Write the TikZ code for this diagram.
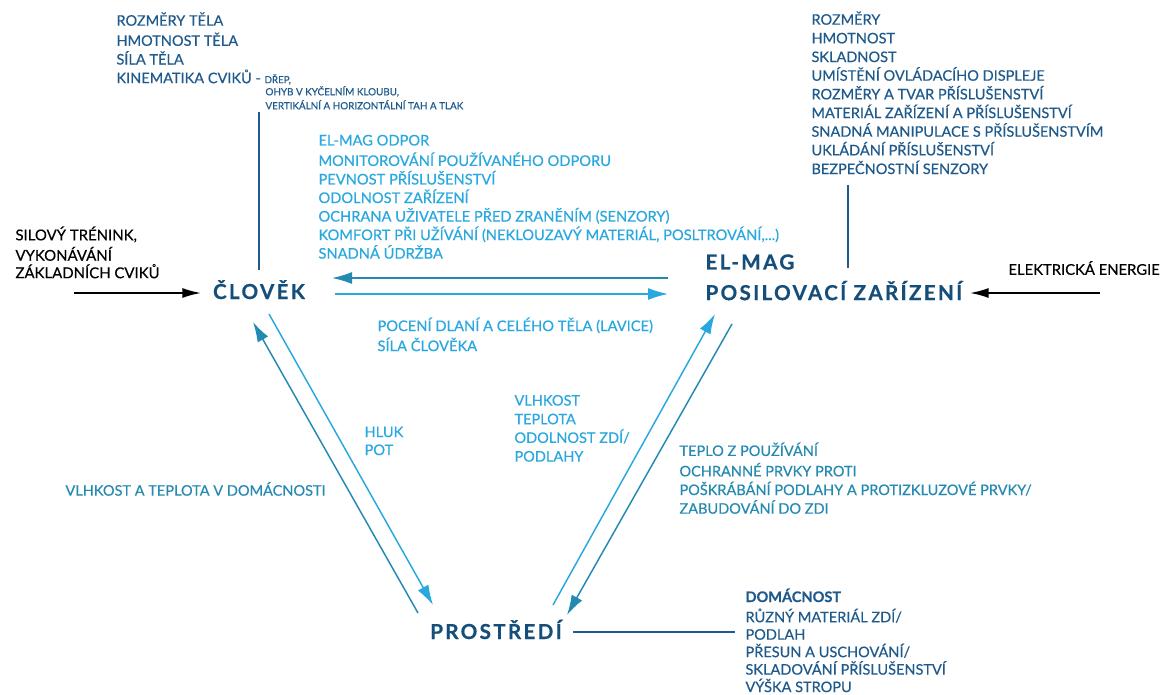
\documentclass[tikz,border=0pt]{standalone}
\usepackage{fontspec}
\setmainfont[FakeBold=0.4]{Lato}
\newfontfamily\hlavnifont[LetterSpace=11,FakeBold=0.5]{Lato}
\usetikzlibrary{arrows.meta,calc}

\definecolor{tmavamodra}{RGB}{31,90,140}
\definecolor{hlavnimodra}{RGB}{22,78,122}
\definecolor{azurova}{RGB}{41,168,224}
\definecolor{tyrkysova}{RGB}{36,138,178}

\tikzset{every picture/.style={line width=0.75pt}}
\tikzset{
  seznam/.style={anchor=north west,inner sep=0.75pt,align=left,font=\fontsize{10.9}{14}\selectfont},
  hlavni/.style={inner sep=0.75pt,text=hlavnimodra,font=\hlavnifont\bfseries\fontsize{15.5}{23}\selectfont},
  sipkaA/.style={azurova,line width=1.1pt,-{Latex[length=15pt,width=9pt]}},
  sipkaT/.style={tyrkysova,line width=1.1pt,-{Latex[length=15pt,width=9pt]}},
  sipkaC/.style={black,line width=1.2pt,-{Latex[length=14pt,width=7.5pt]}},
  linka/.style={tmavamodra,line width=1pt}
}

\begin{document}
\begin{tikzpicture}[x=0.75pt,y=0.75pt,yscale=-1,xscale=1]
\useasboundingbox (0,0) rectangle (1162,695);
\fill [white] (0,0) rectangle (1162,695);

% Text Node
\draw (259,299) node [hlavni,anchor=base] (clovek) {ČLOVĚK};
% Text Node
\draw (704,246.5) node [hlavni,anchor=north west,align=left] (zarizeni) {\strut EL-MAG\\POSILOVACÍ ZAŘÍZENÍ};
% Text Node
\draw (496,639) node [hlavni,anchor=base] (prostredi) {PROSTŘEDÍ};

% Text Node
\draw (115,11) node [seznam,text=tmavamodra] (telo) {\strut ROZMĚRY TĚLA\\HMOTNOST TĚLA\\SÍLA TĚLA\\KINEMATIKA CVIKŮ - {\fontsize{7.3}{14}\selectfont DŘEP,}};
% Text Node
\draw (264,84) node [seznam,text=tmavamodra,font=\fontsize{7.4}{10.5}\selectfont] (cviky) {\strut OHYB V KYČELNÍM KLOUBU,\\VERTIKÁLNÍ A HORIZONTÁLNÍ TAH A TLAK};
% Text Node
\draw (317,131) node [seznam,text=azurova,font=\fontsize{11}{13.9}\selectfont] (odpor) {\strut EL-MAG ODPOR\\MONITOROVÁNÍ POUŽÍVANÉHO ODPORU\\PEVNOST PŘÍSLUŠENSTVÍ\\ODOLNOST ZAŘÍZENÍ\\OCHRANA UŽIVATELE PŘED ZRANĚNÍM (SENZORY)\\KOMFORT PŘI UŽÍVÁNÍ (NEKLOUZAVÝ MATERIÁL, POSLTROVÁNÍ,...)\\SNADNÁ ÚDRŽBA};
% Text Node
\draw (810,10) node [seznam,text=tmavamodra] (parametry) {\strut ROZMĚRY\\HMOTNOST\\SKLADNOST\\UMÍSTĚNÍ OVLÁDACÍHO DISPLEJE\\ROZMĚRY A TVAR PŘÍSLUŠENSTVÍ\\MATERIÁL ZAŘÍZENÍ A PŘÍSLUŠENSTVÍ\\SNADNÁ MANIPULACE S PŘÍSLUŠENSTVÍM\\UKLÁDÁNÍ PŘÍSLUŠENSTVÍ\\BEZPEČNOSTNÍ SENZORY};
% Text Node
\draw (14,225) node [seznam,text=black,font=\fontsize{11.2}{13.1}\selectfont] (trenink) {\strut SILOVÝ TRÉNINK,\\VYKONÁVÁNÍ\\ZÁKLADNÍCH CVIKŮ};
% Text Node
\draw (1007,268) node [anchor=west,inner sep=0.75pt,font=\fontsize{11.1}{13.1}\selectfont] (energie) {ELEKTRICKÁ ENERGIE};
% Text Node
\draw (376,316) node [seznam,text=azurova,font=\fontsize{11}{12.8}\selectfont] (poceni) {\strut POCENÍ DLANÍ A CELÉHO TĚLA (LAVICE)\\SÍLA ČLOVĚKA};
% Text Node
\draw (363,423) node [seznam,text=azurova,font=\fontsize{11}{13.5}\selectfont] (hluk) {\strut HLUK\\POT};
% Text Node
\draw (513,391) node [seznam,text=azurova] (vlhkost) {\strut VLHKOST\\TEPLOTA\\ODOLNOST ZDÍ/\\PODLAHY};
% Text Node
\draw (678,441) node [seznam,text=tyrkysova] (teplo) {\strut TEPLO Z POUŽÍVÁNÍ\\OCHRANNÉ PRVKY PROTI\\POŠKRÁBÁNÍ PODLAHY A PROTIZKLUZOVÉ PRVKY/\\ZABUDOVÁNÍ DO ZDI};
% Text Node
\draw (64,489) node [anchor=west,inner sep=0.75pt,text=tyrkysova,font=\fontsize{10.9}{14}\selectfont] (domov) {VLHKOST A TEPLOTA V DOMÁCNOSTI};
% Text Node
\draw (744,587) node [seznam,text=tmavamodra,font=\fontsize{10.9}{13.1}\selectfont] (domacnost) {\strut\textbf{DOMÁCNOST}\\RŮZNÝ MATERIÁL ZDÍ/\\PODLAH\\PŘESUN A USCHOVÁNÍ/\\SKLADOVÁNÍ PŘÍSLUŠENSTVÍ\\VÝŠKA STROPU};

%Straight Lines
\draw [linka] ($(clovek.base)+(0,-187)$) -- ($(clovek.base)+(0,-29)$) ;
\draw [linka] ($(zarizeni.north west)+(144,-61.5)$) -- ($(zarizeni.north west)+(144,21.5)$) ;
\draw [linka] ($(prostredi.base)+(77,-7)$) -- ($(prostredi.base)+(239,-7)$) ;

%Arrows
\draw [sipkaC] ($(clovek.base)+(-185,-6)$) -- ($(clovek.base)+(-58,-6)$) ;
\draw [sipkaC] ($(zarizeni.north west)+(396,46.5)$) -- ($(zarizeni.north west)+(266,46.5)$) ;
\draw [sipkaT] ($(zarizeni.north west)+(-36,31.5)$) -- ($(clovek.base)+(73,-21)$) ;
\draw [sipkaA] ($(clovek.base)+(76,-5)$) -- ($(zarizeni.north west)+(-36,47.5)$) ;
\draw [sipkaT] ($(prostredi.base)+(-78,-26)$) -- ($(clovek.base)+(-6,23)$) ;
\draw [sipkaA] ($(clovek.base)+(10,15)$) -- ($(prostredi.base)+(-63,-34)$) ;
\draw [sipkaA] ($(prostredi.base)+(57,-34)$) -- ($(zarizeni.north west)+(11,67.5)$) ;
\draw [sipkaT] ($(zarizeni.north west)+(28,77.5)$) -- ($(prostredi.base)+(71,-24)$) ;

\end{tikzpicture}
\end{document}
